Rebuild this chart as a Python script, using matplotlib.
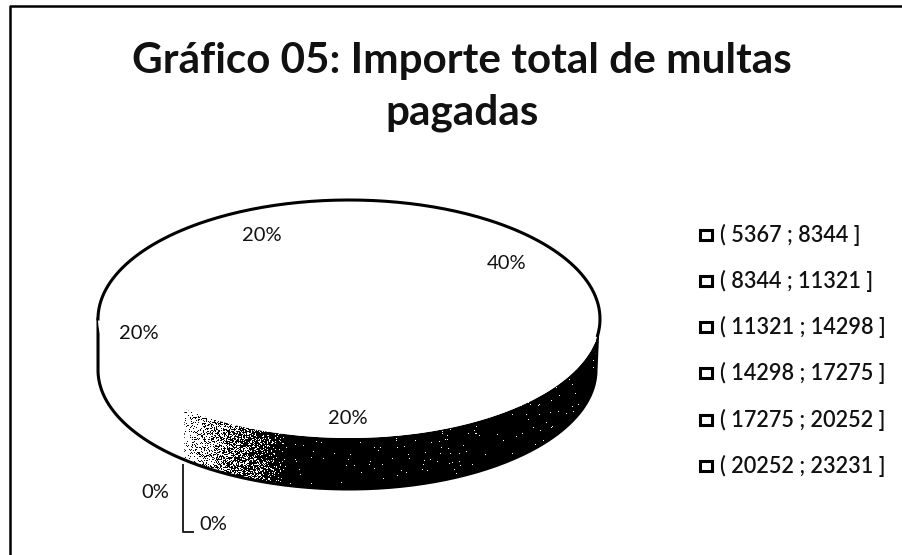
import numpy as np
import matplotlib
matplotlib.use("Agg")
import matplotlib.pyplot as plt
from matplotlib.patches import Polygon, Rectangle

# datos
intervalos = ["( 5367 ; 8344 ]", "( 8344 ; 11321 ]", "( 11321 ; 14298 ]",
              "( 14298 ; 17275 ]", "( 17275 ; 20252 ]", "( 20252 ; 23231 ]"]
porcentajes = [40, 20, 20, 20, 0, 0]
etiquetas = ["40%", "20%", "20%", "20%", "0%", "0%"]

titulo = "Gráfico 05: Importe total de multas\npagadas"

W, H = 903, 555
cx, cy, rx, ry = 349, 319, 251, 119
prof = 51
fuente = ["Lato", "DejaVu Sans"]

fig = plt.figure(figsize=(W / 100, H / 100), dpi=100, facecolor="white")
ax = fig.add_axes([0, 0, 1, 1])
ax.set_xlim(0, W)
ax.set_ylim(H, 0)
ax.axis("off")

# marco: solo arriba e izquierda en el escaneo
ax.plot([10, 10, W], [H, 6, 6], color="black", lw=1.8)

ax.text(462, 87, titulo, ha="center", va="center", fontsize=30.4, fontweight="bold",
        family=fuente, color="#111111", linespacing=1.42)

# pared lateral, de izquierda a derecha por delante
t = np.radians(np.linspace(180, 360, 200))
x_sup = cx + rx * np.cos(t)
y_sup = cy - ry * np.sin(t)
x_inf = x_sup - 4 * np.maximum(np.cos(t), 0)
y_inf = y_sup + prof

# degradado punteado de la parte frontal
t2 = np.radians(np.linspace(229, 352, 200))
xa = cx + rx * np.cos(t2)
ya = cy - ry * np.sin(t2)
t3 = np.radians(np.linspace(229, 360, 200))
xc = cx + (rx - 4 * (np.cos(t3) > 0)) * np.cos(t3)
yc = cy - ry * np.sin(t3) + prof
pared = Polygon(np.r_[np.c_[xa, ya], np.c_[xc[::-1], yc[::-1]]], closed=True,
                fc="none", ec="none")
ax.add_patch(pared)
xx, yy = np.meshgrid(np.arange(170, 610), np.arange(300, 500))
ruido = np.sin(xx * 12.9898 + yy * 78.233) * 43758.5453
ruido = ruido - np.floor(ruido)
rampa = np.clip((xx - 172) / 115, 0, 0.992)
img = ax.imshow((ruido < rampa) * 1.0, cmap="gray_r", vmin=0, vmax=1,
                extent=(170, 610, 500, 300), interpolation="nearest", aspect="auto")
img.set_clip_path(pared)
ax.set_xlim(0, W)
ax.set_ylim(H, 0)

# contorno exterior inferior
ax.plot(np.r_[x_sup[0], x_inf, xa[-1]], np.r_[y_sup[0], y_inf, ya[-1]],
        color="black", lw=2.2)

# la tarta: eje propio estirado para verla como elipse
ax_pie = fig.add_axes([(cx - rx) / W, 1 - (cy + ry) / H, 2 * rx / W, 2 * ry / H])
ax_pie.pie(porcentajes, startangle=108, counterclock=False, radius=1,
           colors=["white"] * len(porcentajes), wedgeprops={"linewidth": 0})
ax_pie.set_aspect("auto")
ax_pie.set_xlim(-1, 1)
ax_pie.set_ylim(-1, 1)
ax_pie.patch.set_alpha(0)
a = np.radians(np.linspace(-8, 180, 200))
ax_pie.plot(np.cos(a), np.sin(a), color="black", lw=2.2, clip_on=False)

# rotulos
pos = [(507, 263), (348, 418), (139, 333), (262, 235), (155, 493), (213, 525)]
for (px, py), e in zip(pos, etiquetas):
    ax_pie.text((px - cx) / rx, (cy - py) / ry, e, ha="center", va="center", fontsize=14.5,
                family=fuente, color="#111111", clip_on=False)

# linea guia de los 0%
ax.plot([183, 183, 193], [465, 532, 532], color="#222222", lw=1.4)

# leyenda
ley_y = [235, 281, 327, 373, 420, 466]
for yl, txt in zip(ley_y, intervalos):
    ax.add_patch(Rectangle((700, yl - 5), 12, 10, fc="white", ec="black", lw=2.2))
    ax.text(720, yl, txt, ha="left", va="center", fontsize=15.6, family=fuente,
            fontweight="semibold", color="#111111")

fig.savefig("out.png", dpi=100, facecolor="white")
